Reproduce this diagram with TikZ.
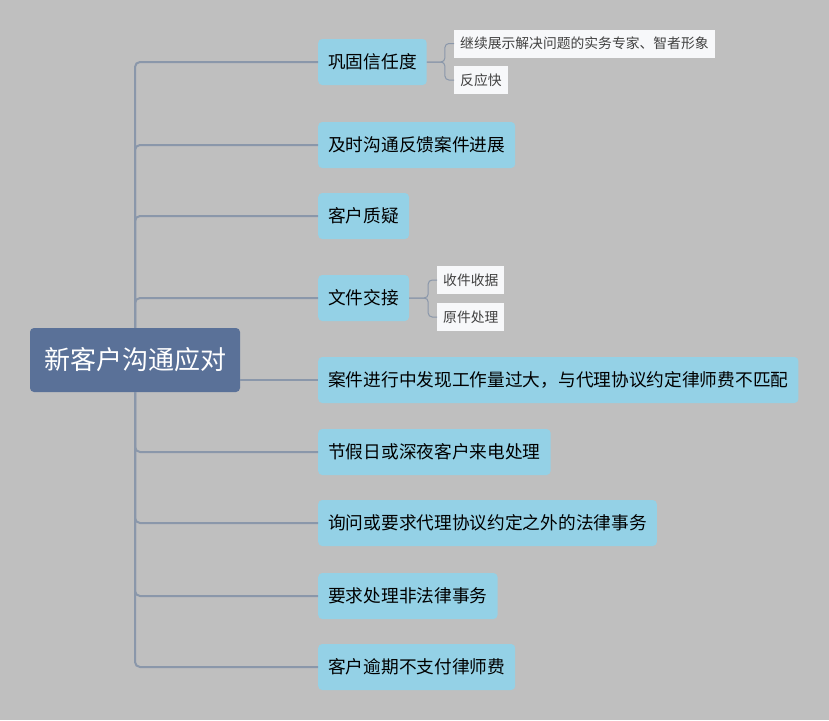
\documentclass[tikz,border=0pt]{standalone}
\usepackage{fontspec}
\setmainfont{Noto Sans CJK SC}
\usepackage{xcolor}
\usetikzlibrary{positioning, arrows.meta}
\definecolor{fond}{HTML}{BFBFBF}
\definecolor{racine}{HTML}{5A7198}
\definecolor{branche}{HTML}{94D1E6}
\definecolor{feuille}{HTML}{F7F8FA}
\definecolor{trait}{HTML}{8A97AA}

\begin{document}
\begin{tikzpicture}[x=1pt, y=-1pt]
    % Définition des styles
    \tikzset{
        root/.style   = {rectangle, fill=racine, text=white, font=\fontsize{26}{26}\selectfont, rounded corners=4pt, minimum width=210pt, minimum height=64pt, inner sep=0pt},
        branch/.style = {rectangle, fill=branche, font=\fontsize{17.7}{17.7}\selectfont, rounded corners=4pt, minimum height=46pt, inner xsep=10pt, inner ysep=0pt, anchor=west},
        leaf/.style   = {rectangle, fill=feuille, text=black!75, font=\fontsize{13.8}{13.8}\selectfont, minimum height=28pt, inner xsep=6pt, inner ysep=0pt, anchor=west},
        line/.style   = {draw=trait, line width=2pt, rounded corners=5pt},
        twig/.style   = {draw=trait, line width=1pt, rounded corners=4pt}
    }

    % Fond
    \fill [fond] (0,0) rectangle (829,720);

    % Noeud central
    \node [root] (root) at (135,360) {新客户沟通应对};

    % Branches principales
    \node [branch] (trust)    at (318,62)  {巩固信任度};
    \node [branch] (progress) at (318,145) {及时沟通反馈案件进展};
    \node [branch] (doubt)    at (318,216) {客户质疑};
    \node [branch] (files)    at (318,298) {文件交接};
    \node [branch] (workload) at (318,380) {案件进行中发现工作量过大，与代理协议约定律师费不匹配};
    \node [branch] (holiday)  at (318,452) {节假日或深夜客户来电处理};
    \node [branch] (extra)    at (318,523) {询问或要求代理协议约定之外的法律事务};
    \node [branch] (nonlegal) at (318,596) {要求处理非法律事务};
    \node [branch] (overdue)  at (318,667) {客户逾期不支付律师费};

    % Sous-branches
    \node [leaf] (expert) at (454,43.5) {继续展示解决问题的实务专家、智者形象};
    \node [leaf] (quick)  at (454,80)   {反应快};
    \node [leaf] (receipt) at (437,280) {收件收据};
    \node [leaf] (original) at (437,317) {原件处理};

    % Connexions
    \path [line] (root.north) |- (trust.west);
    \path [line] (root.north) |- (progress.west);
    \path [line] (root.north) |- (doubt.west);
    \path [line] (root.north) |- (files.west);
    \path [line] (root.east |- workload.west) -- (workload.west);
    \path [line] (root.south) |- (holiday.west);
    \path [line] (root.south) |- (extra.west);
    \path [line] (root.south) |- (nonlegal.west);
    \path [line] (root.south) |- (overdue.west);
    \path [twig] (trust.east) -- ++(18,0) |- (expert.west);
    \path [twig] (trust.east) -- ++(18,0) |- (quick.west);
    \path [twig] (files.east) -- ++(19,0) |- (receipt.west);
    \path [twig] (files.east) -- ++(19,0) |- (original.west);
\end{tikzpicture}
\end{document}
